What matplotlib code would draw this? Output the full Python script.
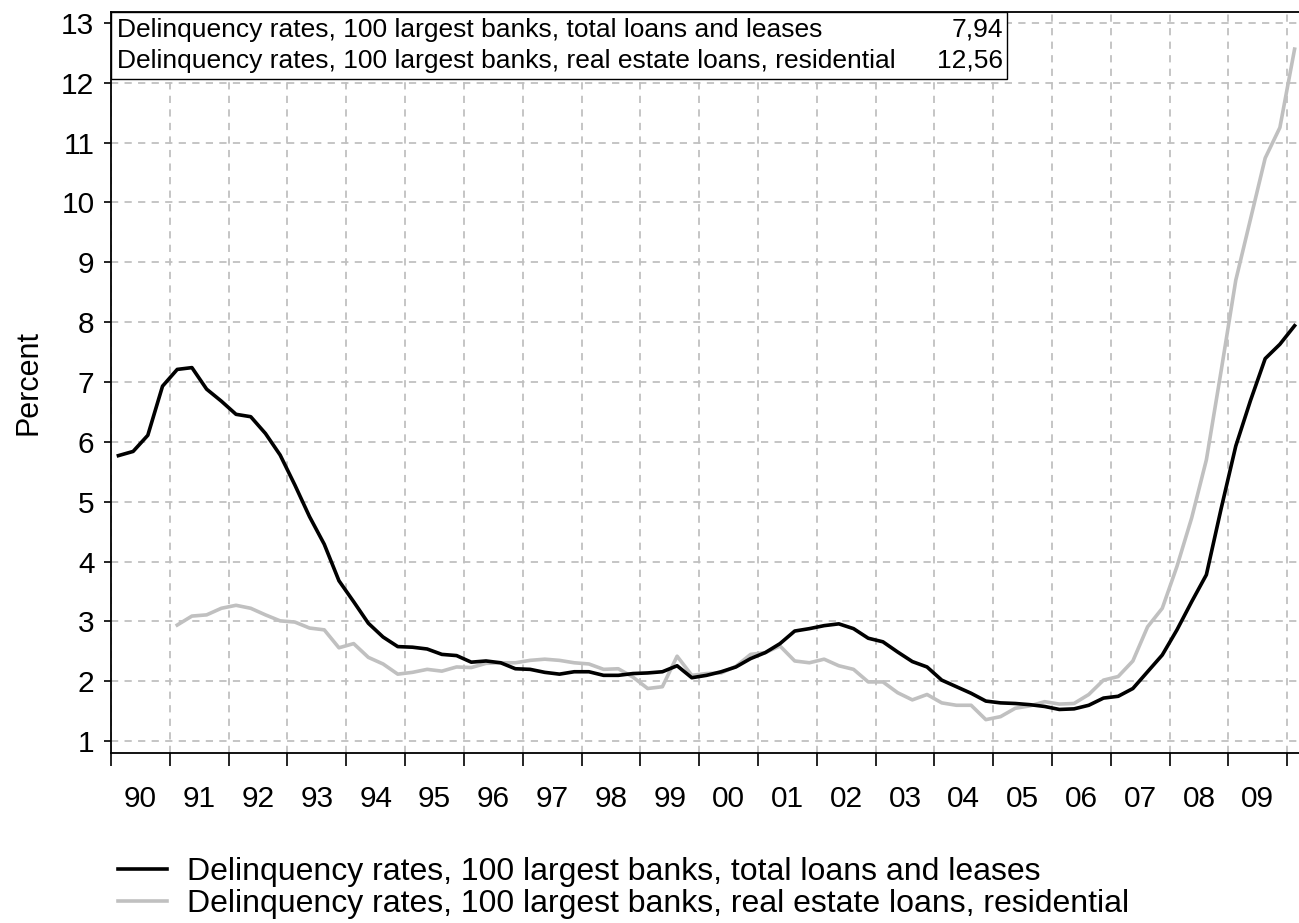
import numpy as np
import pandas as pd
import matplotlib
matplotlib.use("Agg")
import matplotlib.pyplot as plt
from matplotlib.patches import Rectangle
from matplotlib.ticker import FixedLocator, NullFormatter

plt.rcParams['font.family'] = ['Liberation Sans', 'DejaVu Sans']

# Quarterly observations 1990Q1 - 2010Q1
quarters = pd.period_range("1990Q1", "2010Q1", freq="Q")

total_loans = [
    5.77, 5.84, 6.11, 6.93, 7.21, 7.24, 6.88, 6.68, 6.46, 6.42,
    6.14, 5.78, 5.28, 4.75, 4.29, 3.68, 3.33, 2.97, 2.74, 2.58,
    2.57, 2.54, 2.45, 2.43, 2.32, 2.34, 2.31, 2.21, 2.20, 2.15,
    2.12, 2.16, 2.16, 2.10, 2.10, 2.13, 2.14, 2.16, 2.26, 2.06,
    2.10, 2.16, 2.24, 2.38, 2.48, 2.63, 2.84, 2.88, 2.93, 2.96,
    2.88, 2.72, 2.66, 2.49, 2.33, 2.24, 2.02, 1.91, 1.80, 1.67,
    1.64, 1.63, 1.61, 1.58, 1.53, 1.54, 1.60, 1.72, 1.75, 1.88,
    2.16, 2.44, 2.86, 3.33, 3.78, 4.88, 5.93, 6.69, 7.39, 7.63,
    7.94,
]

residential = [
    np.nan, np.nan, np.nan, np.nan, 2.94, 3.09, 3.11, 3.22, 3.27, 3.22,
    3.11, 3.01, 2.99, 2.89, 2.86, 2.56, 2.63, 2.40, 2.29, 2.12,
    2.15, 2.20, 2.17, 2.24, 2.23, 2.30, 2.31, 2.31, 2.35, 2.37,
    2.35, 2.31, 2.29, 2.20, 2.21, 2.07, 1.88, 1.91, 2.42, 2.10,
    2.13, 2.14, 2.25, 2.45, 2.48, 2.59, 2.34, 2.31, 2.37, 2.26,
    2.20, 1.99, 1.99, 1.81, 1.69, 1.78, 1.64, 1.60, 1.60, 1.36,
    1.41, 1.55, 1.59, 1.66, 1.62, 1.63, 1.78, 2.02, 2.08, 2.34,
    2.91, 3.22, 3.92, 4.73, 5.70, 7.18, 8.70, 9.72, 10.74, 11.25,
    12.56,
]

label_total = "Delinquency rates, 100 largest banks, total loans and leases"
label_resid = "Delinquency rates, 100 largest banks, real estate loans, residential"

years = list(range(1990, 2011))
year_labels = [f"{y % 100:02d}" for y in range(1990, 2010)]

# place each quarter at its midpoint
x = quarters.year + (quarters.quarter - 0.5) / 4

fig = plt.figure(figsize=(12.99, 9.23), dpi=100)
ax = fig.add_axes([0.0855, 0.184, 0.9145, 0.803])

grid_col = "#c0c0c0"
ax.plot(x, total_loans, color="black", lw=2.6, label=label_total, zorder=4)
ax.plot(x, residential, color="#c0c0c0", lw=2.6, label=label_resid, zorder=3)

ax.set_xlim(1990, 2010.2)
ax.set_ylim(0.8, 13.18)

# year boundaries as ticks, labels centred in each year
ax.xaxis.set_major_locator(FixedLocator(years))
ax.xaxis.set_major_formatter(NullFormatter())
ax.xaxis.set_minor_locator(FixedLocator([y + 0.5 for y in years[:-1]]))
ax.set_xticklabels(year_labels, minor=True)
ax.tick_params(axis="x", which="major", direction="out", length=9, width=1.2)
ax.tick_params(axis="x", which="minor", length=0, pad=23, labelsize=21.5)
ax.set_yticks(range(1, 14))
ax.tick_params(axis="y", direction="out", length=5, width=1.2, labelsize=21.5, pad=7)

ax.grid(True, which="major", color=grid_col, ls=(0, (4, 3.5)), lw=1.3)
ax.set_axisbelow(True)

for side in ["left", "bottom", "top"]:
    ax.spines[side].set_linewidth(1.3)
ax.spines["right"].set_visible(False)

ax.set_ylabel("Percent", fontsize=22, labelpad=13)

# last-value box in the top left corner
ax.add_patch(Rectangle((0, 0.9096), 0.754, 0.0904, transform=ax.transAxes,
                       facecolor="white", edgecolor="black", lw=1.0, zorder=6,
                       clip_on=False))
rows = [(label_total, total_loans[-1], 0.976), (label_resid, residential[-1], 0.934)]
for text, val, ypos in rows:
    ax.text(0.005, ypos, text, transform=ax.transAxes, fontsize=19,
            va="center", ha="left", zorder=7)
    ax.text(0.751, ypos, f"{val:.2f}".replace(".", ","), transform=ax.transAxes,
            fontsize=19, va="center", ha="right", zorder=7)

fig.legend(loc="upper left", bbox_to_anchor=(0.0905, 0.071), frameon=False,
           fontsize=23, handlelength=1.55, handletextpad=0.62, labelspacing=0.05,
           borderpad=0, borderaxespad=0)

fig.savefig("out.png", dpi=100)
